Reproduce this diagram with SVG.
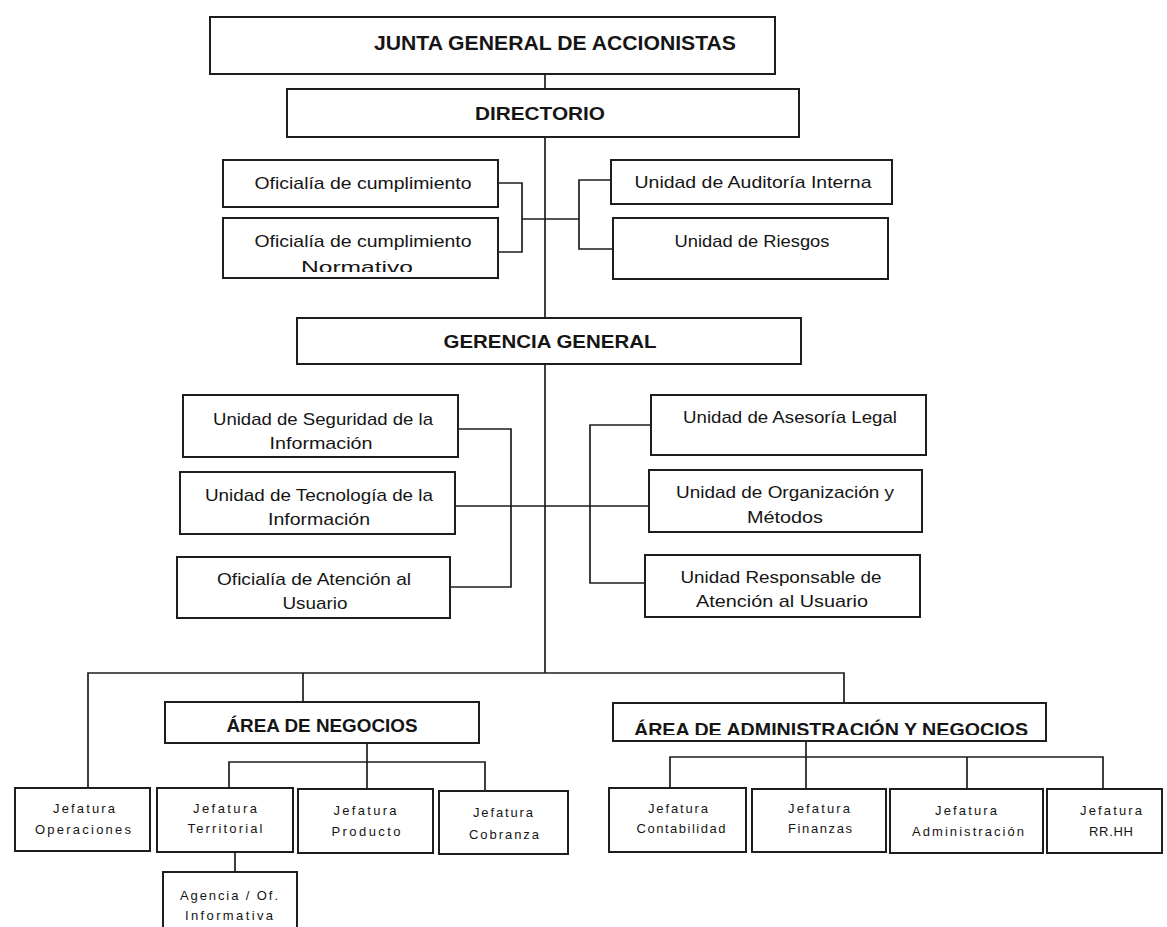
<svg xmlns="http://www.w3.org/2000/svg" width="1167" height="927" viewBox="0 0 1167 927">
  <style>
    .box { fill: #fff; stroke: #1e1e1e; stroke-width: 2; }
    .ln { fill: none; stroke: #1e1e1e; stroke-width: 1.7; }
    text { font-family: "Liberation Sans", Arial, sans-serif; fill: #151515; text-anchor: middle; }
    .h1 { font-size: 20px; font-weight: bold; }
    .h2 { font-size: 19px; font-weight: bold; }
    .t { font-size: 17px; }
    .s { font-size: 13px; }
  </style>
  <defs>
    <clipPath id="clipNorm"><rect x="223" y="218" width="275" height="54"/></clipPath>
    <clipPath id="clipAdm"><rect x="613" y="703" width="433" height="32"/></clipPath>
  </defs>
  <rect width="1167" height="927" fill="#fff"/>

  <!-- connectors -->
  <g id="connectors">
    <path class="ln" d="M545 74 V89"/>
    <path class="ln" d="M545 137 V318"/>
    <path class="ln" d="M498 183 H522 V252 H498 M522 219 H579 M611 180 H579 V249 H613"/>
    <path class="ln" d="M545 364 V673"/>
    <path class="ln" d="M458 429 H511 V587 H450 M455 506 H649 M651 425 H590 V583 H645"/>
    <path class="ln" d="M88 788 V673 H844 V703 M303 673 V702"/>
    <path class="ln" d="M367 743 V789 M229 788 V762 H485 V791 M235 852 V872"/>
    <path class="ln" d="M806 741 V789 M670 788 V757 H1103 V789 M967 757 V789"/>
  </g>

  <g id="junta">
    <rect class="box" x="210" y="17" width="565" height="57"/>
    <text class="h1" x="555" y="50" textLength="362" lengthAdjust="spacingAndGlyphs">JUNTA GENERAL DE ACCIONISTAS</text>
  </g>
  <g id="directorio">
    <rect class="box" x="287" y="89" width="512" height="48"/>
    <text class="h2" x="540" y="120" textLength="130" lengthAdjust="spacingAndGlyphs">DIRECTORIO</text>
  </g>
  <g id="of-cumplimiento">
    <rect class="box" x="223" y="160" width="275" height="47"/>
    <text class="t" x="363" y="189" textLength="217" lengthAdjust="spacingAndGlyphs">Oficialía de cumplimiento</text>
  </g>
  <g id="of-cumplimiento-normativo">
    <rect class="box" x="223" y="218" width="275" height="60"/>
    <text class="t" x="363" y="247" textLength="217" lengthAdjust="spacingAndGlyphs">Oficialía de cumplimiento</text>
    <text class="t" x="357" y="273" clip-path="url(#clipNorm)" textLength="112" lengthAdjust="spacingAndGlyphs">Normativo</text>
  </g>
  <g id="auditoria">
    <rect class="box" x="611" y="160" width="281" height="44"/>
    <text class="t" x="753" y="188" textLength="237" lengthAdjust="spacingAndGlyphs">Unidad de Auditoría Interna</text>
  </g>
  <g id="riesgos">
    <rect class="box" x="613" y="218" width="275" height="61"/>
    <text class="t" x="752" y="247" textLength="155" lengthAdjust="spacingAndGlyphs">Unidad de Riesgos</text>
  </g>
  <g id="gerencia">
    <rect class="box" x="297" y="318" width="504" height="46"/>
    <text class="h2" x="550" y="348" textLength="213" lengthAdjust="spacingAndGlyphs">GERENCIA GENERAL</text>
  </g>
  <g id="seguridad">
    <rect class="box" x="183" y="395" width="275" height="62"/>
    <text class="t" x="323" y="425" textLength="220" lengthAdjust="spacingAndGlyphs">Unidad de Seguridad de la</text>
    <text class="t" x="321" y="449" textLength="103" lengthAdjust="spacingAndGlyphs">Información</text>
  </g>
  <g id="tecnologia">
    <rect class="box" x="180" y="472" width="275" height="62"/>
    <text class="t" x="319" y="501" textLength="228" lengthAdjust="spacingAndGlyphs">Unidad de Tecnología de la</text>
    <text class="t" x="319" y="525" textLength="102" lengthAdjust="spacingAndGlyphs">Información</text>
  </g>
  <g id="atencion-usuario">
    <rect class="box" x="177" y="557" width="273" height="61"/>
    <text class="t" x="314" y="585" textLength="194" lengthAdjust="spacingAndGlyphs">Oficialía de Atención al</text>
    <text class="t" x="315" y="609" textLength="65" lengthAdjust="spacingAndGlyphs">Usuario</text>
  </g>
  <g id="asesoria">
    <rect class="box" x="651" y="395" width="275" height="60"/>
    <text class="t" x="790" y="423" textLength="214" lengthAdjust="spacingAndGlyphs">Unidad de Asesoría Legal</text>
  </g>
  <g id="organizacion">
    <rect class="box" x="649" y="470" width="273" height="62"/>
    <text class="t" x="785" y="498" textLength="218" lengthAdjust="spacingAndGlyphs">Unidad de Organización y</text>
    <text class="t" x="785" y="523" textLength="76" lengthAdjust="spacingAndGlyphs">Métodos</text>
  </g>
  <g id="responsable">
    <rect class="box" x="645" y="555" width="275" height="62"/>
    <text class="t" x="781" y="583" textLength="201" lengthAdjust="spacingAndGlyphs">Unidad Responsable de</text>
    <text class="t" x="782" y="607" textLength="172" lengthAdjust="spacingAndGlyphs">Atención al Usuario</text>
  </g>
  <g id="area-negocios">
    <rect class="box" x="165" y="702" width="314" height="41"/>
    <text class="h2" x="322" y="732" textLength="191" lengthAdjust="spacingAndGlyphs">ÁREA DE NEGOCIOS</text>
  </g>
  <g id="area-administracion">
    <rect class="box" x="613" y="703" width="433" height="38"/>
    <text class="h2" x="831" y="736" clip-path="url(#clipAdm)" textLength="394" lengthAdjust="spacingAndGlyphs">ÁREA DE ADMINISTRACIÓN Y NEGOCIOS</text>
  </g>
  <g id="operaciones">
    <rect class="box" x="15" y="788" width="135" height="63"/>
    <text class="s" x="84" y="813" textLength="62" lengthAdjust="spacing">Jefatura</text>
    <text class="s" x="83" y="834" textLength="96" lengthAdjust="spacing">Operaciones</text>
  </g>
  <g id="territorial">
    <rect class="box" x="157" y="788" width="136" height="64"/>
    <text class="s" x="225" y="813" textLength="64" lengthAdjust="spacing">Jefatura</text>
    <text class="s" x="225" y="833" textLength="75" lengthAdjust="spacing">Territorial</text>
  </g>
  <g id="producto">
    <rect class="box" x="298" y="789" width="135" height="64"/>
    <text class="s" x="365" y="815" textLength="63" lengthAdjust="spacing">Jefatura</text>
    <text class="s" x="366" y="836" textLength="69" lengthAdjust="spacing">Producto</text>
  </g>
  <g id="cobranza">
    <rect class="box" x="439" y="791" width="129" height="63"/>
    <text class="s" x="503" y="817" textLength="60" lengthAdjust="spacing">Jefatura</text>
    <text class="s" x="504" y="839" textLength="70" lengthAdjust="spacing">Cobranza</text>
  </g>
  <g id="agencia">
    <rect class="box" x="163" y="872" width="134" height="62"/>
    <text class="s" x="229" y="900" textLength="98" lengthAdjust="spacing">Agencia / Of.</text>
    <text class="s" x="229" y="920" textLength="88" lengthAdjust="spacing">Informativa</text>
  </g>
  <g id="contabilidad">
    <rect class="box" x="609" y="788" width="137" height="64"/>
    <text class="s" x="678" y="813" textLength="60" lengthAdjust="spacing">Jefatura</text>
    <text class="s" x="681" y="833" textLength="89" lengthAdjust="spacing">Contabilidad</text>
  </g>
  <g id="finanzas">
    <rect class="box" x="752" y="789" width="134" height="63"/>
    <text class="s" x="819" y="813" textLength="62" lengthAdjust="spacing">Jefatura</text>
    <text class="s" x="820" y="833" textLength="64" lengthAdjust="spacing">Finanzas</text>
  </g>
  <g id="administracion">
    <rect class="box" x="890" y="789" width="153" height="64"/>
    <text class="s" x="966" y="815" textLength="62" lengthAdjust="spacing">Jefatura</text>
    <text class="s" x="968" y="836" textLength="112" lengthAdjust="spacing">Administración</text>
  </g>
  <g id="rrhh">
    <rect class="box" x="1047" y="789" width="115" height="64"/>
    <text class="s" x="1111" y="815" textLength="62" lengthAdjust="spacing">Jefatura</text>
    <text class="s" x="1111" y="836" textLength="44" lengthAdjust="spacing">RR.HH</text>
  </g>
</svg>
